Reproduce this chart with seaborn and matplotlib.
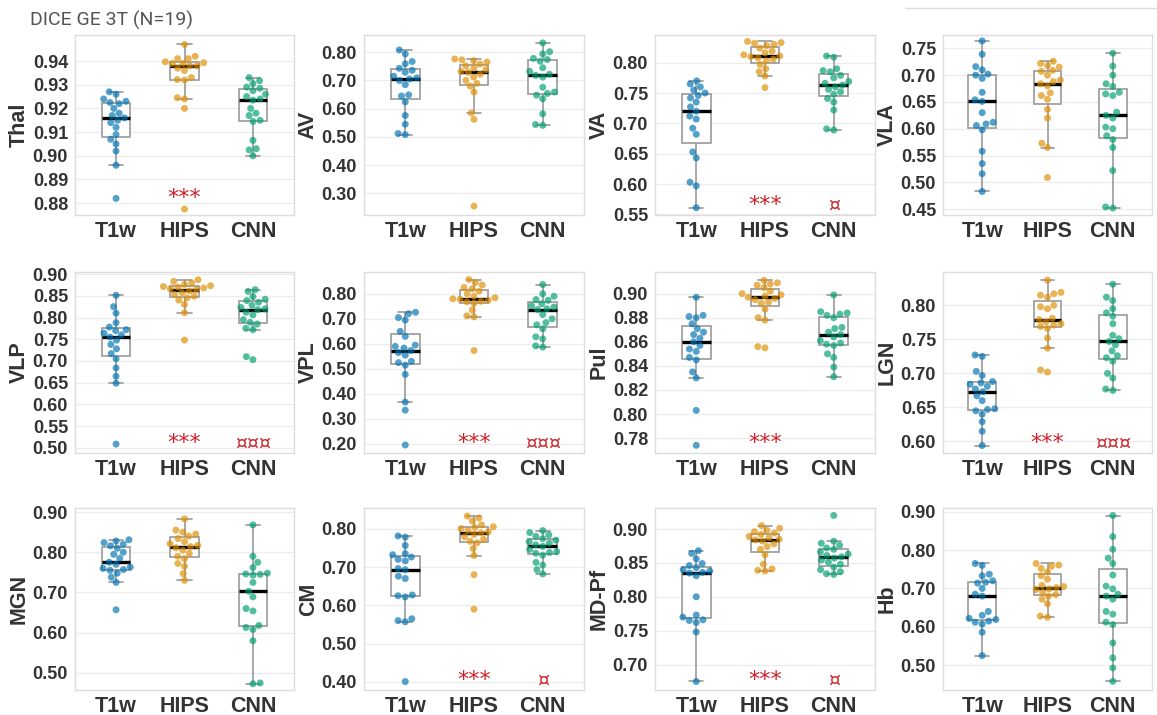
import numpy as np
import pandas as pd
import matplotlib
matplotlib.use("Agg")
import matplotlib.pyplot as plt
import matplotlib.transforms as mtransforms
from matplotlib.ticker import FormatStrFormatter
from matplotlib.lines import Line2D
import seaborn as sns

groups = ["T1w", "HIPS", "CNN"]
regions = ["Thal", "AV", "VA", "VLA", "VLP", "VPL", "Pul", "LGN", "MGN", "CM", "MD-Pf", "Hb"]

T1W = {
    "Thal": [0.882, 0.896, 0.902, 0.905, 0.907, 0.909, 0.912, 0.914, 0.915, 0.916, 0.917, 0.918, 0.920, 0.922, 0.9225, 0.923, 0.924, 0.926, 0.927],
    "AV": [0.508, 0.512, 0.545, 0.576, 0.624, 0.645, 0.649, 0.685, 0.700, 0.705, 0.709, 0.715, 0.729, 0.736, 0.743, 0.759, 0.767, 0.794, 0.808],
    "VA": [0.561, 0.597, 0.603, 0.643, 0.653, 0.682, 0.692, 0.707, 0.712, 0.720, 0.727, 0.735, 0.742, 0.746, 0.750, 0.755, 0.760, 0.765, 0.770],
    "VLA": [0.483, 0.516, 0.535, 0.558, 0.598, 0.606, 0.609, 0.612, 0.630, 0.651, 0.654, 0.668, 0.694, 0.700, 0.702, 0.710, 0.716, 0.739, 0.764],
    "VLP": [0.509, 0.649, 0.665, 0.684, 0.705, 0.717, 0.728, 0.738, 0.748, 0.755, 0.760, 0.764, 0.770, 0.772, 0.778, 0.788, 0.810, 0.825, 0.851],
    "VPL": [0.196, 0.335, 0.367, 0.478, 0.515, 0.525, 0.530, 0.555, 0.565, 0.573, 0.583, 0.590, 0.595, 0.630, 0.650, 0.695, 0.705, 0.720, 0.726],
    "Pul": [0.774, 0.803, 0.830, 0.835, 0.845, 0.847, 0.852, 0.854, 0.857, 0.860, 0.863, 0.866, 0.868, 0.871, 0.875, 0.880, 0.881, 0.882, 0.897],
    "LGN": [0.594, 0.615, 0.629, 0.640, 0.645, 0.647, 0.648, 0.660, 0.667, 0.673, 0.677, 0.681, 0.684, 0.686, 0.688, 0.697, 0.703, 0.725, 0.727],
    "MGN": [0.657, 0.725, 0.738, 0.748, 0.755, 0.757, 0.760, 0.763, 0.770, 0.775, 0.785, 0.795, 0.800, 0.810, 0.816, 0.820, 0.824, 0.828, 0.831],
    "CM": [0.401, 0.557, 0.560, 0.565, 0.622, 0.625, 0.627, 0.670, 0.676, 0.693, 0.696, 0.716, 0.720, 0.726, 0.732, 0.735, 0.756, 0.778, 0.781],
    "MD-Pf": [0.675, 0.748, 0.762, 0.765, 0.766, 0.770, 0.773, 0.800, 0.831, 0.835, 0.836, 0.838, 0.840, 0.843, 0.846, 0.849, 0.856, 0.864, 0.868],
    "Hb": [0.525, 0.586, 0.607, 0.612, 0.615, 0.619, 0.622, 0.630, 0.640, 0.680, 0.685, 0.700, 0.714, 0.716, 0.720, 0.733, 0.737, 0.760, 0.765],
}

HIPS = {
    "Thal": [0.8775, 0.920, 0.924, 0.9245, 0.932, 0.9322, 0.933, 0.936, 0.937, 0.938, 0.938, 0.939, 0.939, 0.9393, 0.9397, 0.941, 0.941, 0.942, 0.947],
    "AV": [0.255, 0.562, 0.585, 0.659, 0.680, 0.690, 0.700, 0.712, 0.722, 0.729, 0.732, 0.738, 0.744, 0.752, 0.758, 0.765, 0.770, 0.773, 0.776],
    "VA": [0.759, 0.778, 0.785, 0.790, 0.797, 0.803, 0.806, 0.808, 0.810, 0.811, 0.813, 0.816, 0.819, 0.824, 0.828, 0.830, 0.832, 0.833, 0.835],
    "VLA": [0.509, 0.565, 0.573, 0.620, 0.636, 0.655, 0.662, 0.667, 0.680, 0.684, 0.688, 0.691, 0.700, 0.707, 0.709, 0.715, 0.718, 0.722, 0.726],
    "VLP": [0.748, 0.811, 0.830, 0.840, 0.845, 0.849, 0.853, 0.857, 0.861, 0.864, 0.866, 0.868, 0.870, 0.871, 0.873, 0.876, 0.879, 0.883, 0.887],
    "VPL": [0.573, 0.708, 0.712, 0.735, 0.762, 0.768, 0.770, 0.774, 0.778, 0.780, 0.784, 0.790, 0.800, 0.810, 0.820, 0.825, 0.835, 0.845, 0.857],
    "Pul": [0.855, 0.856, 0.878, 0.880, 0.887, 0.892, 0.893, 0.895, 0.896, 0.897, 0.898, 0.899, 0.900, 0.902, 0.905, 0.907, 0.908, 0.909, 0.911],
    "LGN": [0.702, 0.705, 0.737, 0.752, 0.766, 0.769, 0.771, 0.773, 0.776, 0.779, 0.781, 0.795, 0.798, 0.800, 0.812, 0.815, 0.817, 0.819, 0.837],
    "MGN": [0.730, 0.747, 0.765, 0.772, 0.784, 0.790, 0.797, 0.805, 0.811, 0.814, 0.817, 0.821, 0.826, 0.834, 0.840, 0.845, 0.850, 0.855, 0.883],
    "CM": [0.590, 0.680, 0.730, 0.748, 0.763, 0.767, 0.772, 0.779, 0.785, 0.789, 0.792, 0.795, 0.800, 0.803, 0.805, 0.810, 0.820, 0.828, 0.833],
    "MD-Pf": [0.838, 0.839, 0.841, 0.848, 0.862, 0.870, 0.874, 0.878, 0.882, 0.884, 0.885, 0.887, 0.889, 0.892, 0.894, 0.896, 0.898, 0.901, 0.905],
    "Hb": [0.625, 0.628, 0.660, 0.672, 0.680, 0.684, 0.690, 0.697, 0.699, 0.702, 0.705, 0.708, 0.724, 0.733, 0.743, 0.752, 0.758, 0.761, 0.765],
}

CNN = {
    "Thal": [0.900, 0.9025, 0.903, 0.9065, 0.9145, 0.915, 0.917, 0.918, 0.920, 0.9235, 0.924, 0.925, 0.926, 0.9275, 0.9285, 0.929, 0.9305, 0.9317, 0.933],
    "AV": [0.541, 0.544, 0.582, 0.635, 0.648, 0.654, 0.659, 0.676, 0.712, 0.718, 0.722, 0.732, 0.745, 0.768, 0.774, 0.778, 0.794, 0.802, 0.833],
    "VA": [0.689, 0.691, 0.722, 0.735, 0.741, 0.748, 0.752, 0.756, 0.760, 0.763, 0.766, 0.769, 0.775, 0.779, 0.785, 0.787, 0.790, 0.809, 0.811],
    "VLA": [0.452, 0.454, 0.522, 0.565, 0.580, 0.587, 0.600, 0.603, 0.620, 0.625, 0.631, 0.662, 0.665, 0.668, 0.679, 0.684, 0.700, 0.717, 0.741],
    "VLP": [0.703, 0.710, 0.772, 0.775, 0.785, 0.789, 0.795, 0.806, 0.812, 0.818, 0.820, 0.823, 0.828, 0.835, 0.839, 0.842, 0.848, 0.860, 0.864],
    "VPL": [0.587, 0.592, 0.620, 0.628, 0.660, 0.676, 0.685, 0.700, 0.717, 0.737, 0.740, 0.747, 0.752, 0.760, 0.774, 0.777, 0.790, 0.800, 0.837],
    "Pul": [0.831, 0.839, 0.847, 0.850, 0.857, 0.858, 0.859, 0.861, 0.864, 0.866, 0.868, 0.871, 0.872, 0.880, 0.882, 0.883, 0.884, 0.885, 0.899],
    "LGN": [0.675, 0.677, 0.693, 0.700, 0.718, 0.723, 0.726, 0.733, 0.742, 0.747, 0.751, 0.756, 0.773, 0.784, 0.789, 0.795, 0.807, 0.812, 0.831],
    "MGN": [0.473, 0.475, 0.580, 0.608, 0.613, 0.618, 0.654, 0.660, 0.689, 0.703, 0.725, 0.743, 0.745, 0.746, 0.748, 0.762, 0.775, 0.790, 0.868],
    "CM": [0.682, 0.693, 0.705, 0.712, 0.731, 0.736, 0.738, 0.740, 0.746, 0.754, 0.758, 0.762, 0.766, 0.770, 0.774, 0.780, 0.784, 0.790, 0.795],
    "MD-Pf": [0.833, 0.834, 0.837, 0.840, 0.844, 0.848, 0.851, 0.854, 0.857, 0.859, 0.861, 0.863, 0.866, 0.870, 0.872, 0.876, 0.879, 0.882, 0.920],
    "Hb": [0.458, 0.493, 0.519, 0.558, 0.606, 0.612, 0.633, 0.640, 0.672, 0.680, 0.685, 0.699, 0.706, 0.735, 0.765, 0.779, 0.802, 0.835, 0.890],
}

sig_hips = ["***", "", "***", "", "***", "***", "***", "***", "", "***", "***", ""]
sig_cnn = ["", "", "\u00a4", "", "\u00a4\u00a4\u00a4", "\u00a4\u00a4\u00a4", "", "\u00a4\u00a4\u00a4", "", "\u00a4", "\u00a4", ""]

y_ticks = [
    [0.88, 0.89, 0.90, 0.91, 0.92, 0.93, 0.94],
    [0.30, 0.40, 0.50, 0.60, 0.70, 0.80],
    [0.55, 0.60, 0.65, 0.70, 0.75, 0.80],
    [0.45, 0.50, 0.55, 0.60, 0.65, 0.70, 0.75],
    [0.50, 0.55, 0.60, 0.65, 0.70, 0.75, 0.80, 0.85, 0.90],
    [0.20, 0.30, 0.40, 0.50, 0.60, 0.70, 0.80],
    [0.78, 0.80, 0.82, 0.84, 0.86, 0.88, 0.90],
    [0.60, 0.65, 0.70, 0.75, 0.80],
    [0.50, 0.60, 0.70, 0.80, 0.90],
    [0.40, 0.50, 0.60, 0.70, 0.80],
    [0.70, 0.75, 0.80, 0.85, 0.90],
    [0.50, 0.60, 0.70, 0.80, 0.90],
]

y_limits = [
    (0.875, 0.951), (0.2235, 0.861), (0.549, 0.8456), (0.439, 0.775),
    (0.4885, 0.9046), (0.164, 0.887), (0.7676, 0.918), (0.583, 0.849),
    (0.4575, 0.910), (0.379, 0.854), (0.6624, 0.931), (0.4354, 0.9096),
]

palette = {"T1w": "#0173B2", "HIPS": "#DE8F05", "CNN": "#029E73"}

sns.set_theme(style="white")
plt.rcParams["font.family"] = ["Liberation Sans", "DejaVu Sans"]

W, H = 1157, 715
fig = plt.figure(figsize=(W / 100, H / 100), dpi=100)

col_left = [75, 364, 655, 943]
col_right = [294, 584, 875, 1152]
row_top = [35, 272, 508]
row_bottom = [215, 453, 690]

for i, reg in enumerate(regions):
    r, c = divmod(i, 4)
    l, rr = col_left[c], col_right[c]
    t, b = row_top[r], row_bottom[r]
    ax = fig.add_axes([l / W, 1 - b / H, (rr - l) / W, (b - t) / H])
    df = pd.DataFrame({
        "method": np.repeat(groups, [len(T1W[reg]), len(HIPS[reg]), len(CNN[reg])]),
        "dice": np.concatenate([T1W[reg], HIPS[reg], CNN[reg]]),
    })
    ax.set_axisbelow(True)
    ax.yaxis.grid(True, color="#ececec", linewidth=0.9)
    sns.boxplot(data=df, x="method", y="dice", order=groups, ax=ax, width=0.42,
                showfliers=False, color="white", linecolor="#9a9a9a", linewidth=1.2,
                medianprops=dict(color="black", linewidth=2.4), whis=1.5, zorder=2)
    sns.swarmplot(data=df, x="method", y="dice", hue="method", order=groups,
                  hue_order=groups, palette=palette, size=5.0, alpha=0.68,
                  ax=ax, legend=False, zorder=3, linewidth=0)
    ax.set_ylim(*y_limits[i])
    ax.set_yticks(y_ticks[i])
    ax.yaxis.set_major_formatter(FormatStrFormatter("%.2f"))
    ax.set_xlim(-0.6, 2.6)
    ax.set_xlabel("")
    ax.set_ylabel(reg, fontsize=15.5, fontweight="bold", color="#333333", labelpad=2)
    ax.tick_params(axis="y", length=0, pad=5, labelsize=13, labelcolor="#333333")
    ax.tick_params(axis="x", length=0, pad=4, labelsize=15.5, labelcolor="#333333")
    for lab in ax.get_yticklabels() + ax.get_xticklabels():
        lab.set_fontweight("bold")
    for sp in ax.spines.values():
        sp.set_color("#dddddd")
        sp.set_linewidth(1.0)
    trans = mtransforms.blended_transform_factory(ax.transData, ax.transAxes)
    yfrac = 0.095 if reg == "Thal" else 0.055
    if sig_hips[i]:
        ax.text(1, yfrac, sig_hips[i], transform=trans, ha="center", va="center",
                color="#cc2229", fontsize=16, family=["DejaVu Sans"])
    if sig_cnn[i]:
        ax.text(2, yfrac, sig_cnn[i], transform=trans, ha="center", va="center",
                color="#cc2229", fontsize=13.5, family=["DejaVu Sans"])

fig.text(30 / W, 1 - 20 / H, "DICE GE 3T (N=19)", ha="left", va="center",
         fontsize=14, color="#555555", family=["Roboto", "DejaVu Sans"])
fig.add_artist(Line2D([905 / W, 1.0], [1 - 8 / H, 1 - 8 / H], color="#dddddd",
                      linewidth=1.0, transform=fig.transFigure))

fig.savefig("out.png", dpi=100, facecolor="white")
